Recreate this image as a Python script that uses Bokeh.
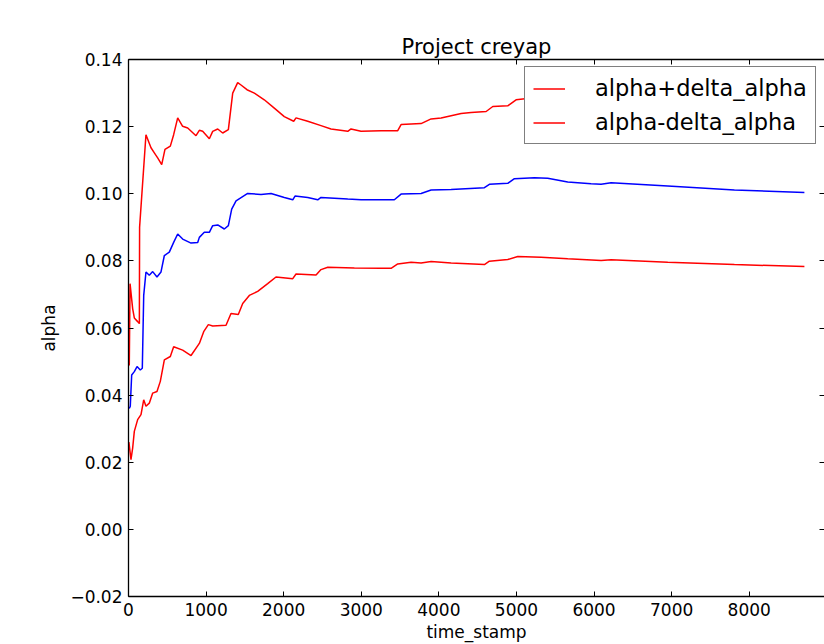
from bokeh.plotting import figure
from bokeh.models import (ColumnDataSource, LinearAxis, FixedTicker, Legend, LegendItem, Range1d)
from bokeh.embed import file_html
from bokeh.resources import INLINE

# ---- data ----
t_alpha = [10, 23, 41, 75, 110, 152, 178, 196, 225, 268, 312, 367, 419, 462, 526, 582, 634, 698, 806,
           892, 913, 977, 1042, 1085, 1150, 1235, 1287, 1330, 1386, 1536, 1708, 1837, 2008, 2117, 2146,
           2310, 2439, 2481, 2826, 2997, 3426, 3513, 3771, 3900, 4158, 4587, 4651, 4888, 4974, 5231,
           5403, 5661, 5962, 6091, 6220, 6950, 7809, 8711]
alpha = [0.0360, 0.0367, 0.0460, 0.0470, 0.0485, 0.0475, 0.0480, 0.0697, 0.0767, 0.0757, 0.0768, 0.0752,
         0.0767, 0.0816, 0.0826, 0.0855, 0.0880, 0.0865, 0.0853, 0.0855, 0.0870, 0.0885, 0.0885, 0.0905,
         0.0907, 0.0895, 0.0905, 0.0954, 0.0979, 0.1001, 0.0998, 0.1001, 0.0989, 0.0982, 0.0993, 0.0989,
         0.0982, 0.0989, 0.0984, 0.0982, 0.0982, 0.0999, 0.1001, 0.1011, 0.1013, 0.1018, 0.1028, 0.1031,
         0.1045, 0.1048, 0.1046, 0.1035, 0.1030, 0.1028, 0.1033, 0.1023, 0.1011, 0.1004]

t_upper = [10, 20, 54, 75, 118, 140, 143, 225, 290, 333, 376, 428, 470, 539, 582, 634, 698, 763, 870, 913,
           956, 1042, 1085, 1150, 1214, 1287, 1343, 1407, 1450, 1527, 1622, 1750, 1879, 2008, 2129, 2159,
           2310, 2481, 2610, 2826, 2868, 2997, 3255, 3470, 3513, 3771, 3900, 4029, 4287, 4415, 4609, 4695,
           4888, 4995, 5111, 5317, 5661, 6091, 6220, 6950, 7809, 8711]
upper = [0.0488, 0.0732, 0.0657, 0.0630, 0.0619, 0.0613, 0.0900, 0.1176, 0.1137, 0.1122, 0.1107, 0.1087,
         0.1132, 0.1142, 0.1176, 0.1226, 0.1201, 0.1196, 0.1173, 0.1189, 0.1186, 0.1164, 0.1186, 0.1193,
         0.1181, 0.1191, 0.1300, 0.1331, 0.1324, 0.1310, 0.1300, 0.1280, 0.1255, 0.1230, 0.1216, 0.1226,
         0.1216, 0.1203, 0.1193, 0.1186, 0.1193, 0.1186, 0.1188, 0.1188, 0.1206, 0.1209, 0.1223, 0.1226,
         0.1239, 0.1242, 0.1245, 0.1260, 0.1262, 0.1280, 0.1283, 0.1285, 0.1264, 0.1255, 0.1263, 0.1250,
         0.1233, 0.1225]

t_lower = [5, 32, 54, 75, 118, 161, 196, 225, 268, 312, 367, 410, 462, 539, 582, 698, 806, 913, 969, 1029,
           1085, 1257, 1321, 1415, 1472, 1557, 1665, 1794, 1901, 2117, 2159, 2417, 2481, 2568, 2911, 3255,
           3384, 3470, 3642, 3771, 3900, 4158, 4587, 4651, 4888, 5017, 5317, 5661, 6091, 6220, 6950, 7809,
           8711]
lower = [0.0260, 0.0208, 0.0243, 0.0292, 0.0327, 0.0342, 0.0386, 0.0367, 0.0376, 0.0406, 0.0411, 0.0441,
         0.0505, 0.0515, 0.0544, 0.0534, 0.0518, 0.0554, 0.0589, 0.0610, 0.0606, 0.0608, 0.0643, 0.0640,
         0.0673, 0.0697, 0.0709, 0.0732, 0.0752, 0.0747, 0.0761, 0.0758, 0.0774, 0.0781, 0.0779, 0.0778,
         0.0778, 0.0791, 0.0796, 0.0794, 0.0798, 0.0794, 0.0789, 0.0799, 0.0804, 0.0813, 0.0811, 0.0806,
         0.0801, 0.0803, 0.0796, 0.0789, 0.0783]

x_ticks = [0, 1000, 2000, 3000, 4000, 5000, 6000, 7000, 8000, 9000]
y_ticks = [-0.02, 0.0, 0.02, 0.04, 0.06, 0.08, 0.10, 0.12, 0.14]
y_tick_labels = ["\u22120.02", "0.00", "0.02", "0.04", "0.06", "0.08", "0.10", "0.12", "0.14"]

FONT = "DejaVu Sans"

p = figure(width=824, height=644, output_backend="svg", toolbar_location=None,
           x_range=Range1d(0, 8970), y_range=Range1d(-0.02, 0.14),
           min_border_left=128, min_border_right=0, min_border_top=59, min_border_bottom=47,
           x_axis_label="time_stamp", y_axis_label="alpha", title="Project creyap")
p.background_fill_color = "white"
p.border_fill_color = "white"
p.outline_line_color = None
p.xgrid.visible = False
p.ygrid.visible = False

p.title.text_font = FONT
p.title.text_font_size = "21px"
p.title.text_font_style = "normal"
p.title.text_color = "black"
p.title.align = "center"
p.title.standoff = 2

xt = FixedTicker(ticks=x_ticks)
yt = FixedTicker(ticks=y_ticks)
ylabels = {v: s for v, s in zip(y_ticks, y_tick_labels)}

def style(ax):
    ax.axis_line_color = "black"
    ax.axis_line_width = 1.3
    ax.major_tick_in = 5
    ax.major_tick_out = 0
    ax.major_tick_line_color = "black"
    ax.minor_tick_line_color = None
    ax.major_label_text_font = FONT
    ax.major_label_text_font_size = "17px"
    ax.major_label_text_color = "black"
    ax.axis_label_text_font = FONT
    ax.axis_label_text_font_style = "normal"
    ax.axis_label_text_font_size = "17px"
    ax.axis_label_text_color = "black"

xa = p.xaxis[0]
xa.ticker = xt
style(xa)
xa.major_label_standoff = 6
xa.axis_label_standoff = 3

ya = p.yaxis[0]
ya.ticker = yt
ya.major_label_overrides = ylabels
style(ya)
ya.major_label_standoff = 6
ya.axis_label_standoff = 8

# frame spines with inward ticks only (no labels)
top = LinearAxis(ticker=xt, major_label_text_color=None, major_label_text_font_size="1px",
                 major_label_standoff=0)
top.axis_line_color = "black"
top.axis_line_width = 1.3
top.major_tick_in = 5
top.major_tick_out = 0
top.minor_tick_line_color = None
p.add_layout(top, "above")

right = LinearAxis(ticker=yt, major_label_text_color=None, major_label_text_font_size="1px",
                   major_label_standoff=0)
right.axis_line_color = None
right.major_tick_in = 5
right.major_tick_out = 0
right.minor_tick_line_color = None
p.add_layout(right, "right")

src_a = ColumnDataSource(dict(x=t_alpha, y=alpha))
src_u = ColumnDataSource(dict(x=t_upper, y=upper))
src_l = ColumnDataSource(dict(x=t_lower, y=lower))

r_u = p.line("x", "y", source=src_u, line_color="#ff0000", line_width=1.5)
r_l = p.line("x", "y", source=src_l, line_color="#ff0000", line_width=1.5)
r_a = p.line("x", "y", source=src_a, line_color="#0000ff", line_width=1.5)

legend = Legend(items=[LegendItem(label="alpha+delta_alpha", renderers=[r_u]),
                       LegendItem(label="alpha-delta_alpha", renderers=[r_l])],
                location=(396, 452), margin=0, padding=8, spacing=8,
                glyph_width=32, glyph_height=25, label_height=25, label_standoff=30,
                label_text_font=FONT, label_text_font_size="22.5px", label_text_color="black",
                border_line_color="black", border_line_width=1.3,
                background_fill_color="white", background_fill_alpha=1.0)
p.add_layout(legend, "center")

open("out.html", "w").write(file_html(p, INLINE))
